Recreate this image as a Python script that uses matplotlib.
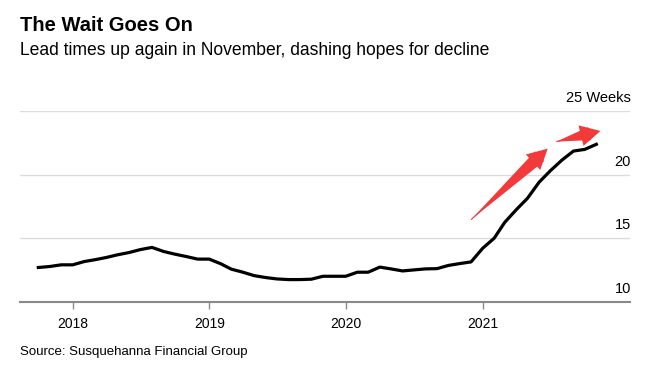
import matplotlib
matplotlib.use('Agg')
import matplotlib.pyplot as plt
import matplotlib.transforms as mtransforms
import pandas as pd

plt.rcParams['font.family'] = ['Liberation Sans', 'DejaVu Sans']

# monthly lead times (weeks), Oct 2017 - Nov 2021
months = pd.date_range('2017-10-01', periods=50, freq='MS')
lead_weeks = [12.69, 12.77, 12.9,
              12.9, 13.16, 13.3, 13.48, 13.69, 13.87, 14.1, 14.27, 13.95, 13.74, 13.55, 13.35,
              13.35, 12.98, 12.56, 12.32, 12.05, 11.9, 11.79, 11.74, 11.74, 11.77, 12.0, 12.0,
              12.0, 12.32, 12.32, 12.72, 12.58, 12.42, 12.5, 12.58, 12.6, 12.85, 13.0, 13.13,
              14.2, 15.0, 16.24, 17.24, 18.14, 19.4, 20.3, 21.14, 21.85, 21.98, 22.38]

y_ticks = [10, 15, 20, 25]
y_labels = ['10', '15', '20', '25 Weeks']
x_ticks = pd.to_datetime(['2018-01-01', '2019-01-01', '2020-01-01', '2021-01-01'])
x_labels = ['2018', '2019', '2020', '2021']

# red annotation arrows: (tail date, tail value, head date, head value)
arrows = [('2020-12-01', 16.45, '2021-06-24', 22.04),
          ('2021-07-17', 22.59, '2021-11-12', 23.43)]

title = 'The Wait Goes On'
subtitle = 'Lead times up again in November, dashing hopes for decline'
source = 'Source: Susquehanna Financial Group'

red = '#f23a3a'

fig = plt.figure(figsize=(6.59, 3.71), dpi=100)
ax = fig.add_axes([20 / 659, 1 - 301.7 / 371, 610 / 659, (301.7 - 111) / 371])

ax.plot(months, lead_weeks, color='black', lw=2.3, solid_joinstyle='round', zorder=3)

ax.set_xlim(pd.Timestamp('2017-08-13'), pd.Timestamp('2022-01-30'))
ax.set_ylim(10, 25)

for s in ['top', 'left', 'right']:
    ax.spines[s].set_visible(False)
ax.spines['bottom'].set_color('#8a8a8a')
ax.spines['bottom'].set_linewidth(1.5)

ax.set_yticks(y_ticks)
ax.set_yticklabels([])
ax.tick_params(axis='y', length=0)
ax.grid(axis='y', color='#dcdcdc', lw=1)
ax.set_axisbelow(True)

ax.set_xticks(x_ticks)
ax.set_xticklabels(x_labels, fontsize=10)
ax.tick_params(axis='x', length=5, width=1, color='#8a8a8a', pad=6)

trans = mtransforms.blended_transform_factory(ax.transAxes, ax.transData)
offset = mtransforms.offset_copy(trans, fig=fig, x=1, y=9, units='dots')
for v, lab in zip(y_ticks, y_labels):
    ax.text(1.0, v, lab, transform=offset, ha='right', va='baseline', fontsize=10.5)

# tapered shaft (wedge, pointed at the tail) plus an arrow head on top
for x0, y0, x1, y1 in arrows:
    tail = (pd.Timestamp(x0), y0)
    tip = (pd.Timestamp(x1), y1)
    ax.annotate('', xy=tail, xytext=tip,
                arrowprops=dict(arrowstyle='wedge,tail_width=0.6', color=red, lw=0,
                                shrinkA=8, shrinkB=0, mutation_scale=16),
                annotation_clip=False)
    ax.annotate('', xy=tip, xytext=tail,
                arrowprops=dict(arrowstyle='simple,head_length=0.9,head_width=0.95,tail_width=0.05',
                                color=red, lw=0, shrinkA=0, shrinkB=0, mutation_scale=16),
                annotation_clip=False)

fig.text(20 / 659, 1 - 31 / 371, title, fontsize=14.5, fontweight='bold', ha='left', va='baseline')
fig.text(20 / 659, 1 - 55 / 371, subtitle, fontsize=12.65, ha='left', va='baseline')
fig.text(20 / 659, 1 - 355 / 371, source, fontsize=9.5, ha='left', va='baseline')

fig.savefig('out.png', dpi=100)
